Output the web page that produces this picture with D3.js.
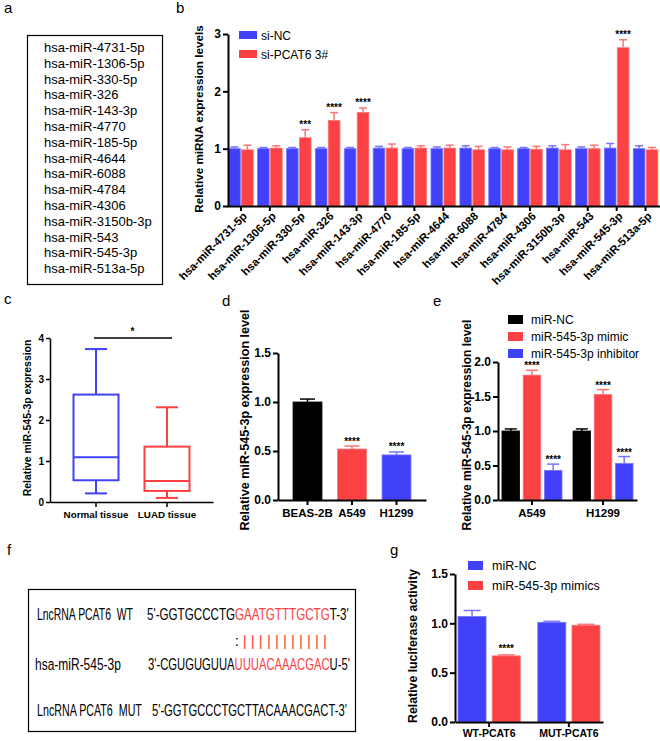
<!DOCTYPE html>
<html><head><meta charset="utf-8">
<script src="https://cdn.jsdelivr.net/npm/d3@7"></script>
<style>body{margin:0;background:#fff} svg text{font-family:"Liberation Sans",Arial,sans-serif}</style>
</head><body><svg id="fig" width="660" height="741"></svg>
<script>
// ---------- DATA ----------
const miRNAs = ["hsa-miR-4731-5p","hsa-miR-1306-5p","hsa-miR-330-5p","hsa-miR-326","hsa-miR-143-3p","hsa-miR-4770","hsa-miR-185-5p","hsa-miR-4644","hsa-miR-6088","hsa-miR-4784","hsa-miR-4306","hsa-miR-3150b-3p","hsa-miR-543","hsa-miR-545-3p","hsa-miR-513a-5p"];
const bSeries = ["si-NC","si-PCAT6 3#"];
const siNC      = [1.00,1.00,1.00,1.00,1.00,1.01,1.00,1.00,1.01,1.00,1.00,1.01,1.00,1.01,1.00];
const siNCErr   = [0.03,0.02,0.02,0.02,0.02,0.03,0.02,0.03,0.04,0.02,0.02,0.04,0.03,0.08,0.05];
const siPCAT6   = [0.98,1.01,1.19,1.49,1.63,1.01,1.01,1.01,0.98,0.98,0.99,0.98,1.00,2.76,0.98];
const siPCAT6Err= [0.08,0.04,0.14,0.14,0.08,0.07,0.04,0.05,0.06,0.05,0.05,0.09,0.06,0.14,0.04];
const bStars    = ["","","***","****","****","","","","","","","","","****",""];
const bTicks = [0,1,2,3];

const cGroups = ["Normal tissue","LUAD tissue"];
const cMin = [0.21,0.10], cQ1 = [0.53,0.27], cMed = [1.09,0.51], cQ3 = [2.62,1.35], cMax = [3.73,2.31];
const cTicks = [0,1,2,3,4];

const dCells = ["BEAS-2B","A549","H1299"];
const dValues = [1.00,0.52,0.46];
const dErr = [0.03,0.03,0.03];
const dStars = ["","****","****"];
const dTicks = [0,0.5,1.0,1.5];

const eGroups = ["A549","H1299"];
const eSeries = ["miR-NC","miR-545-3p mimic","miR-545-3p inhibitor"];
const eNC = [1.00,1.00], eNCErr = [0.03,0.03];
const eMimic = [1.81,1.53], eMimicErr = [0.07,0.07];
const eInhib = [0.43,0.53], eInhibErr = [0.09,0.10];
const eStars = ["","****","****"];
const eTicks = [0,0.5,1.0,1.5,2.0];

const gGroups = ["WT-PCAT6","MUT-PCAT6"];
const gSeries = ["miR-NC","miR-545-3p mimics"];
const gNC = [1.07,1.01], gNCErr = [0.06,0.01];
const gMimic = [0.67,0.98], gMimicErr = [0.01,0.01];
const gStars = [["","****"],["",""]];
const gTicks = [0,0.5,1.0,1.5];

const fLabels = ["LncRNA PCAT6  WT","hsa-miR-545-3p","LncRNA PCAT6  MUT"];
const fWT  = [["5'-GGTGCCCTG",0],["GAATGTTTGCTG",1],["T-3'",0]];
const fMiR = [["3'-CGUGUGUUA",0],["UUUACAAACGAC",1],["U-5'",0]];
const fMUT = [["5'-GGTGCCCTGCTTACAAACGACT-3'",0]];
const fPair = [":","|","|","|","|","|","|","|","|","|","|","|"];

// ---------- STYLE ----------
const BLUE = "#4141fb", RED = "#fb4143", BLACK = "#000";
const BLUE_E = "#7575fd", RED_E = "#fd7575";
const FONT = '"Liberation Sans", Arial, sans-serif';
const svg = d3.select("#fig");
svg.append("rect").attr("width",660).attr("height",741).attr("fill","#fff");

function panelLabel(t,x,y){ svg.append("text").attr("x",x).attr("y",y).attr("font-size",15).attr("fill","#000").text(t); }
function styleAxis(g, fs, sw){
  g.select(".domain").attr("stroke","#000").attr("stroke-width",sw);
  g.selectAll(".tick line").attr("stroke","#000").attr("stroke-width",sw);
  g.selectAll(".tick text").attr("font-family",FONT).attr("font-weight","bold").attr("font-size",fs).attr("fill","#000");
}
function yLabel(t,x,y,fs){
  svg.append("text").attr("transform",`translate(${x},${y}) rotate(-90)`).attr("text-anchor","middle")
    .attr("dy","0.35em").attr("font-weight","bold").attr("font-size",fs).attr("fill","#000").text(t);
}
function errBar(g,cx,y,v,e,capW,color){
  g.append("line").attr("x1",cx).attr("x2",cx).attr("y1",y(v)).attr("y2",y(v+e)).attr("stroke",color).attr("stroke-width",1.5);
  g.append("line").attr("x1",cx-capW/2).attr("x2",cx+capW/2).attr("y1",y(v+e)).attr("y2",y(v+e)).attr("stroke",color).attr("stroke-width",1.5);
}
function star(g,cx,yy,t){
  if(!t) return;
  g.append("text").attr("x",cx).attr("y",yy).attr("text-anchor","middle").attr("font-size",10).attr("font-weight","bold").attr("fill","#000").text(t);
}

// ---------- PANEL a ----------
panelLabel("a",4,13);
svg.append("rect").attr("x",27.5).attr("y",35.5).attr("width",135).attr("height",249).attr("fill","none").attr("stroke","#000").attr("stroke-width",1.2);
svg.append("g").selectAll("text").data(miRNAs).join("text")
  .attr("x",44).attr("y",(d,i)=>52+i*15.8).attr("font-size",13).attr("fill","#000").text(d=>d);

// ---------- PANEL b ----------
panelLabel("b",176,13);
{
  const x0 = d3.scaleBand().domain(miRNAs).range([226.5,660]).paddingInner(0.15).paddingOuter(0.075);
  const x1 = d3.scaleBand().domain(bSeries).range([0,x0.bandwidth()]).paddingInner(0.1);
  const y = d3.scaleLinear().domain([0,3]).range([206,34]);
  const g = svg.append("g");
  const rows = miRNAs.map((m,i)=>({m,star:bStars[i],vals:[
    {s:bSeries[0],v:siNC[i],e:siNCErr[i],c:BLUE,ce:BLUE_E},
    {s:bSeries[1],v:siPCAT6[i],e:siPCAT6Err[i],c:RED,ce:RED_E}]}));
  rows.forEach(r=>{
    r.vals.forEach(d=>{
      const bx = x0(r.m)+x1(d.s);
      g.append("rect").attr("x",bx).attr("y",y(d.v)).attr("width",x1.bandwidth()).attr("height",y(0)-y(d.v))
        .attr("fill",d.c).attr("stroke",d.ce).attr("stroke-width",0.8);
      errBar(g,bx+x1.bandwidth()/2,y,d.v,d.e,8,d.ce);
    });
    const red = r.vals[1];
    star(g,x0(r.m)+x1(red.s)+x1.bandwidth()/2,y(red.v+red.e)-1.5,r.star);
  });
  const ya = svg.append("g").attr("transform","translate(228,0)")
    .call(d3.axisLeft(y).tickValues(bTicks).tickFormat(d3.format("d")).tickSize(5).tickSizeOuter(0).tickPadding(2));
  styleAxis(ya,12,2);
  const xa = svg.append("g").attr("transform","translate(0,206)")
    .call(d3.axisBottom(x0).tickSize(5).tickSizeOuter(0));
  styleAxis(xa,11.3,2);
  xa.selectAll(".tick text").attr("transform","translate(4,8) rotate(-45)").attr("text-anchor","end").attr("x",0).attr("y",0).attr("dy","0.35em");
  yLabel("Relative miRNA expression levels",199,119,11.7);
  const leg = svg.append("g");
  bSeries.forEach((s,i)=>{
    leg.append("rect").attr("x",239).attr("y",31+i*19).attr("width",18).attr("height",8).attr("fill",i?RED:BLUE);
    leg.append("text").attr("x",261).attr("y",40+i*19).attr("font-size",12).attr("fill","#000").text(s);
  });
}

// ---------- PANEL c ----------
panelLabel("c",4,304);
{
  const x = d3.scaleBand().domain(cGroups).range([50,213]).paddingInner(0.366).paddingOuter(0.331);
  const y = d3.scaleLinear().domain([0,4]).range([502,338]);
  const g = svg.append("g");
  cGroups.forEach((k,i)=>{
    const col = i?RED:BLUE;
    const cx = x(k)+x.bandwidth()/2, hw = x.bandwidth()/2, cap = 11;
    const ln=(x1,y1,x2,y2)=>g.append("line").attr("x1",x1).attr("y1",y1).attr("x2",x2).attr("y2",y2).attr("stroke",col).attr("stroke-width",2);
    ln(cx,y(cMax[i]),cx,y(cQ3[i])); ln(cx-cap,y(cMax[i]),cx+cap,y(cMax[i]));
    ln(cx,y(cQ1[i]),cx,y(cMin[i])); ln(cx-cap,y(cMin[i]),cx+cap,y(cMin[i]));
    g.append("rect").attr("x",cx-hw).attr("y",y(cQ3[i])).attr("width",2*hw).attr("height",y(cQ1[i])-y(cQ3[i]))
      .attr("fill","none").attr("stroke",col).attr("stroke-width",2);
    ln(cx-hw,y(cMed[i]),cx+hw,y(cMed[i]));
  });
  const c0 = x(cGroups[0])+x.bandwidth()/2, c1 = x(cGroups[1])+x.bandwidth()/2;
  g.append("line").attr("x1",c0-2).attr("x2",c1+5).attr("y1",y(4)).attr("y2",y(4)).attr("stroke","#000").attr("stroke-width",1.5);
  star(g,(c0+c1)/2+1,y(4)-3,"*");
  const ya = svg.append("g").attr("transform","translate(50,0)")
    .call(d3.axisLeft(y).tickValues(cTicks).tickFormat(d3.format("d")).tickSize(4).tickSizeOuter(0).tickPadding(2));
  styleAxis(ya,10,1.5);
  const xa = svg.append("g").attr("transform","translate(0,502)")
    .call(d3.axisBottom(x).tickSize(5).tickSizeOuter(0).tickPadding(4));
  styleAxis(xa,9.8,1.5);
  yLabel("Relative miR-545-3p expression",27,418,10.4);
}

// ---------- PANEL d ----------
panelLabel("d",222,306);
{
  const x = d3.scaleBand().domain(dCells).range([278,426]).paddingInner(0.35).paddingOuter(0.338);
  const y = d3.scaleLinear().domain([0,1.5]).range([500,353]);
  const g = svg.append("g");
  const cols = [BLACK,RED,BLUE], ecols = [BLACK,RED_E,BLUE_E];
  dCells.forEach((k,i)=>{
    g.append("rect").attr("x",x(k)).attr("y",y(dValues[i])).attr("width",x.bandwidth()).attr("height",y(0)-y(dValues[i]))
      .attr("fill",cols[i]).attr("stroke",ecols[i]).attr("stroke-width",0.8);
    const cx = x(k)+x.bandwidth()/2;
    errBar(g,cx,y,dValues[i],dErr[i],15,ecols[i]);
    star(g,cx,y(dValues[i]+dErr[i])-1.5,dStars[i]);
  });
  const ya = svg.append("g").attr("transform","translate(278,0)")
    .call(d3.axisLeft(y).tickValues(dTicks).tickFormat(d3.format(".1f")).tickSize(5).tickSizeOuter(0).tickPadding(2));
  styleAxis(ya,12,2);
  const xa = svg.append("g").attr("transform","translate(0,500)")
    .call(d3.axisBottom(x).tickSize(5).tickSizeOuter(0).tickPadding(4));
  styleAxis(xa,11.5,2);
  yLabel("Relative miR-545-3p expression level",245,420,12.6);
}

// ---------- PANEL e ----------
panelLabel("e",433,306);
{
  const x0 = d3.scaleBand().domain(eGroups).range([498,637]).paddingInner(0.155).paddingOuter(0.056);
  const x1 = d3.scaleBand().domain(eSeries).range([0,x0.bandwidth()]).paddingInner(0.17);
  const y = d3.scaleLinear().domain([0,2]).range([500,362]);
  const g = svg.append("g");
  const cols = [BLACK,RED,BLUE], ecols = [BLACK,RED_E,BLUE_E];
  const vals = [eNC,eMimic,eInhib], errs = [eNCErr,eMimicErr,eInhibErr];
  eGroups.forEach((k,gi)=>{
    eSeries.forEach((s,si)=>{
      const v = vals[si][gi], e = errs[si][gi];
      const bx = x0(k)+x1(s);
      g.append("rect").attr("x",bx).attr("y",y(v)).attr("width",x1.bandwidth()).attr("height",y(0)-y(v))
        .attr("fill",cols[si]).attr("stroke",ecols[si]).attr("stroke-width",0.8);
      errBar(g,bx+x1.bandwidth()/2,y,v,e,12,ecols[si]);
      star(g,bx+x1.bandwidth()/2,y(v+e)-1,eStars[si]);
    });
  });
  const ya = svg.append("g").attr("transform","translate(498,0)")
    .call(d3.axisLeft(y).tickValues(eTicks).tickFormat(d3.format(".1f")).tickSize(5).tickSizeOuter(0).tickPadding(2));
  styleAxis(ya,12,2);
  const xa = svg.append("g").attr("transform","translate(0,500)")
    .call(d3.axisBottom(x0).tickSize(5).tickSizeOuter(0).tickPadding(4));
  styleAxis(xa,11.5,2);
  yLabel("Relative miR-545-3p expression level",467,425,12);
  const leg = svg.append("g");
  eSeries.forEach((s,i)=>{
    leg.append("rect").attr("x",508).attr("y",315+i*17).attr("width",15).attr("height",9).attr("fill",cols[i]);
    leg.append("text").attr("x",531).attr("y",324+i*17).attr("font-size",12).attr("fill","#000").text(s);
  });
}

// ---------- PANEL f ----------
panelLabel("f",7,555);
{
  const g = svg.append("g");
  g.append("rect").attr("x",28.5).attr("y",589.5).attr("width",327).attr("height",142).attr("fill","none").attr("stroke","#000").attr("stroke-width",1.2);
  const FS = 17;
  const rowsY = [620,670,716];
  // fit a text element horizontally into [x0,x1] by a horizontal scale (condensed look)
  function fitText(parts,x0,x1,yy){
    const t = g.append("text").attr("x",0).attr("y",0).attr("font-size",FS).style("white-space","pre");
    parts.forEach(([s,red])=>t.append("tspan").attr("fill",red?RED:"#000").text(s));
    const w = t.node().getComputedTextLength();
    t.attr("transform",`translate(${x0},${yy}) scale(${(x1-x0)/w},1)`);
    return t;
  }
  const labelSpans = [[37,133],[35,121],[37,142]];
  fLabels.forEach((s,i)=>fitText([[s,0]],labelSpans[i][0],labelSpans[i][1],rowsY[i]));
  fitText(fWT,147,349,rowsY[0]);
  fitText(fMiR,148,350,rowsY[1]);
  fitText(fMUT,152,347,rowsY[2]);
  const n = d3.sum(fMiR,p=>p[0].length), cw = (350-148)/n;
  const redStart = 148 + fMiR[0][0].length*cw;
  const px = d3.scaleLinear().domain([0,fPair.length-1]).range([redStart+cw*0.3, 325]);
  fPair.forEach((p,i)=>{
    g.append("text").attr("x",px(i)).attr("y",646).attr("text-anchor","middle").attr("font-size",15)
      .attr("fill",p===":"?"#000":RED).text(p);
  });
}

// ---------- PANEL g ----------
panelLabel("g",390,555);
{
  const x0 = d3.scaleBand().domain(gGroups).range([455,603]).paddingInner(0.22).paddingOuter(0.038);
  const x1 = d3.scaleBand().domain(gSeries).range([0,x0.bandwidth()]).paddingInner(0.18);
  const y = d3.scaleLinear().domain([0,1.5]).range([722,574]);
  const g = svg.append("g");
  const cols = [BLUE,RED], ecols = [BLUE_E,RED_E];
  const vals = [gNC,gMimic], errs = [gNCErr,gMimicErr];
  gGroups.forEach((k,gi)=>{
    gSeries.forEach((s,si)=>{
      const v = vals[si][gi], e = errs[si][gi];
      const bx = x0(k)+x1(s);
      g.append("rect").attr("x",bx).attr("y",y(v)).attr("width",x1.bandwidth()).attr("height",y(0)-y(v))
        .attr("fill",cols[si]).attr("stroke",ecols[si]).attr("stroke-width",0.8);
      errBar(g,bx+x1.bandwidth()/2,y,v,e,17,ecols[si]);
      star(g,bx+x1.bandwidth()/2,y(v+e)-3,gStars[gi][si]);
    });
  });
  const ya = svg.append("g").attr("transform","translate(455,0)")
    .call(d3.axisLeft(y).tickValues(gTicks).tickFormat(d3.format(".1f")).tickSize(5).tickSizeOuter(0).tickPadding(2));
  styleAxis(ya,12,2);
  const xa = svg.append("g").attr("transform","translate(0,722)")
    .call(d3.axisBottom(x0).tickSize(5).tickSizeOuter(0).tickPadding(3));
  styleAxis(xa,10.5,2);
  yLabel("Relative luciferase activity",413,646,12.3);
  const leg = svg.append("g");
  gSeries.forEach((s,i)=>{
    leg.append("rect").attr("x",468).attr("y",561+i*20).attr("width",15).attr("height",9).attr("fill",cols[i]);
    leg.append("text").attr("x",492).attr("y",570+i*20).attr("font-size",12.5).attr("fill","#000").text(s);
  });
}
</script>
</body></html>
